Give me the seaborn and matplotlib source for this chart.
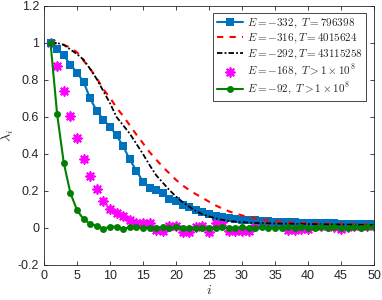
import numpy as np
import pandas as pd
import seaborn as sns
import matplotlib
matplotlib.use("Agg")
import matplotlib.pyplot as plt

i_vals = list(range(1, 51))

# E=-332, T=796398 (blue squares)
blue = [1.0, 0.968, 0.933, 0.883, 0.84, 0.79, 0.70, 0.633, 0.585, 0.548,
        0.50, 0.442, 0.37, 0.31, 0.25, 0.216, 0.203, 0.188, 0.156, 0.144,
        0.122, 0.112, 0.097, 0.087, 0.074, 0.065, 0.06, 0.053, 0.049, 0.045,
        0.043, 0.041, 0.038, 0.036, 0.034, 0.033, 0.031, 0.03, 0.029, 0.028,
        0.027, 0.026, 0.025, 0.024, 0.023, 0.022, 0.022, 0.021, 0.021, 0.02]

# E=-316, T=4015624 (red dashed)
red = [1.0, 1.0, 0.99, 0.975, 0.95, 0.905, 0.86, 0.81, 0.75, 0.705,
       0.65, 0.605, 0.555, 0.505, 0.458, 0.41, 0.37, 0.33, 0.295, 0.26,
       0.23, 0.205, 0.183, 0.163, 0.142, 0.122, 0.105, 0.09, 0.078, 0.068,
       0.058, 0.052, 0.045, 0.04, 0.036, 0.033, 0.03, 0.028, 0.026, 0.025,
       0.024, 0.023, 0.022, 0.021, 0.021, 0.02, 0.02, 0.019, 0.019, 0.018]

# E=-292, T=43115258 (black dash-dot)
black = [1.0, 1.0, 0.99, 0.965, 0.94, 0.91, 0.86, 0.805, 0.74, 0.675,
         0.60, 0.555, 0.51, 0.455, 0.40, 0.34, 0.285, 0.245, 0.205, 0.17,
         0.14, 0.115, 0.092, 0.074, 0.062, 0.052, 0.044, 0.038, 0.034, 0.031,
         0.029, 0.027, 0.026, 0.025, 0.024, 0.023, 0.023, 0.022, 0.022, 0.021,
         0.02, 0.02, 0.019, 0.019, 0.018, 0.018, 0.017, 0.017, 0.016, 0.016]

# E=-168, T>1e8 (magenta asterisks)
magenta = [1.0, 0.877, 0.742, 0.605, 0.485, 0.371, 0.283, 0.209, 0.148, 0.103,
           0.079, 0.065, 0.043, 0.029, 0.026, 0.027, -0.011, -0.014, 0.011, 0.011,
           -0.02, -0.02, 0.007, 0.012, -0.02, 0.029, 0.03, -0.018, -0.018, -0.018,
           -0.016, 0.015, 0.026, 0.027, 0.026, 0.025, -0.01, -0.01, -0.008, -0.008,
           0.01, 0.012, 0.012, 0.006, -0.005, 0.006, 0.01, 0.01, 0.01, 0.01]

# E=-92, T>1e8 (green circles)
green = [1.0, 0.615, 0.353, 0.19, 0.097, 0.047, 0.022, 0.011, -0.005, 0.007,
         0.007, -0.005, 0.004, 0.003, 0.001, 0.002, 0.0, 0.003, 0.002, 0.003,
         0.001, 0.002, -0.001, 0.001, -0.003, 0.002, 0.003, 0.001, 0.002, 0.003,
         0.001, 0.002, 0.003, 0.002, 0.001, 0.002, 0.003, 0.001, 0.003, 0.0,
         0.002, 0.003, 0.001, 0.004, -0.002, 0.001, 0.004, 0.002, 0.003, 0.003]

labels = [r"$E=-332,\ T=796398$",
          r"$E=-316,T=4015624$",
          r"$E=-292,T=43115258$",
          r"$E=-168,\ T>1\times10^8$",
          r"$E=-92,\ T>1\times10^8$"]

yticks = [-0.2, 0, 0.2, 0.4, 0.6, 0.8, 1, 1.2]
ytick_labels = ["-0.2", "0", "0.2", "0.4", "0.6", "0.8", "1", "1.2"]

df = pd.DataFrame({"i": i_vals, "blue": blue, "red": red, "black": black,
                   "magenta": magenta, "green": green})

sns.set_style("ticks")
plt.rcParams["font.family"] = ["Liberation Sans", "DejaVu Sans"]
plt.rcParams["mathtext.fontset"] = "cm"
plt.rcParams["xtick.direction"] = "in"
plt.rcParams["ytick.direction"] = "in"

fig = plt.figure(figsize=(3.82, 3.0), dpi=100)
ax = fig.add_axes([0.115, 0.117, 0.864, 0.863])

sns.lineplot(data=df, x="i", y="blue", ax=ax, color="#0072BD", lw=1.5,
             marker="s", markersize=5.5, markeredgewidth=0, label=labels[0])
sns.lineplot(data=df, x="i", y="red", ax=ax, color="red", lw=1.5,
             linestyle=(0, (3, 3)), label=labels[1])
sns.lineplot(data=df, x="i", y="black", ax=ax, color="black", lw=1.3,
             linestyle=(0, (3, 1.2, 1, 1.2)), label=labels[2])
sns.scatterplot(data=df, x="i", y="magenta", ax=ax, marker=(8, 2, 0),
                s=40, linewidth=1.3, color="magenta", edgecolor="magenta",
                label=labels[3])
sns.lineplot(data=df, x="i", y="green", ax=ax, color="#007F00", lw=1.5,
             marker="o", markersize=5, markeredgewidth=0, label=labels[4])

ax.set_xlim(0, 50)
ax.set_ylim(-0.2, 1.2)
ax.set_xticks(np.arange(0, 51, 5))
ax.set_yticks(yticks)
ax.set_yticklabels(ytick_labels)
ax.tick_params(labelsize=9, colors="#262626", length=3, width=0.6,
               top=True, right=True)
for s in ax.spines.values():
    s.set_linewidth(0.6)
    s.set_color("#262626")
ax.set_xlabel(r"$i$", fontsize=10, labelpad=1)
ax.set_ylabel(r"$\lambda_i$", fontsize=10, labelpad=1)

leg = ax.legend(loc="upper right", bbox_to_anchor=(0.976, 0.973),
                borderaxespad=0, fontsize=8, frameon=True, fancybox=False,
                edgecolor="#262626", framealpha=1, handlelength=2.4,
                handletextpad=0.3, borderpad=0.3, labelspacing=0.2)
leg.get_frame().set_linewidth(0.6)

fig.savefig("out.png", dpi=100)
